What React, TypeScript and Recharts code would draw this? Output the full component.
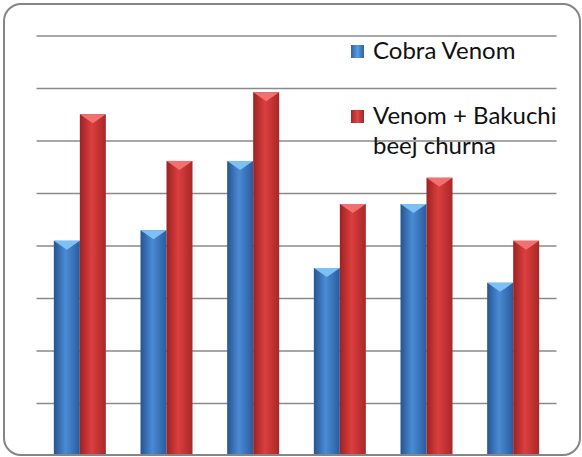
import React from 'react';
import { BarChart, Bar, XAxis, YAxis, CartesianGrid } from 'recharts';

const groups = ['1', '2', '3', '4', '5', '6'];
const cobraVenom = [4.1, 4.3, 5.62, 3.58, 4.8, 3.3];
const venomBakuchi = [6.51, 5.62, 6.93, 4.8, 5.3, 4.1];
const yTicks = [1, 2, 3, 4, 5, 6, 7, 8];
const legendItems = [
  { key: 'cobra', lines: ['Cobra Venom'] },
  { key: 'bakuchi', lines: ['Venom + Bakuchi', 'beej churna'] },
];

const data = groups.map((g, i) => ({ name: g, cobra: cobraVenom[i], bakuchi: venomBakuchi[i] }));

const SERIES = {
  cobra: { grad: 'gBlue', top: '#7cc0f4', swatch: 'linear-gradient(90deg,#2d62a6,#5b9be0 50%,#2d62a6)' },
  bakuchi: { grad: 'gRed', top: '#f27070', swatch: 'linear-gradient(90deg,#a32626,#dd4848 50%,#a32626)' },
};

function makeShape(key: 'cobra' | 'bakuchi') {
  return (props: any) => {
    const { x, y, width, height } = props;
    if (!height || height <= 0) return null;
    const s = SERIES[key];
    const bevel = Math.min(9, height);
    return (
      <g>
        <rect x={x} y={y} width={width} height={height} fill={`url(#${s.grad})`} />
        <polygon points={`${x},${y} ${x + width},${y} ${x + width / 2},${y + bevel}`} fill={s.top} />
      </g>
    );
  };
}

function LegendBox() {
  return (
    <div style={{ position: 'absolute', left: 351, top: 35, width: 220, height: 130, fontFamily: 'Lato, sans-serif', fontSize: 24, color: '#111' }}>
      {legendItems.map((it, i) => (
        <div key={it.key} style={{ position: 'absolute', left: 0, top: i * 65 }}>
          <div
            style={{
              position: 'absolute',
              left: 0,
              top: 9.5,
              width: 13,
              height: 13,
              background: SERIES[it.key as 'cobra' | 'bakuchi'].swatch,
            }}
          />
          {it.lines.map((t, j) => (
            <div key={j} style={{ position: 'absolute', left: 22, top: j * 30, lineHeight: '30px', whiteSpace: 'nowrap' }}>
              {t}
            </div>
          ))}
        </div>
      ))}
    </div>
  );
}

export default function App() {
  return (
    <div style={{ position: 'absolute', left: 0, top: 0, width: 582, height: 457, background: '#fff' }}>
      <div
        style={{
          position: 'absolute',
          left: 3,
          top: 3,
          width: 578,
          height: 453,
          boxSizing: 'border-box',
          border: '2px solid #858585',
          borderRadius: 18,
          overflow: 'hidden',
        }}
      >
        <div style={{ position: 'absolute', left: -5, top: -5, width: 582, height: 457 }}>
          <BarChart
            width={582}
            height={457}
            data={data}
            margin={{ top: 36, right: 25.5, bottom: 1, left: 36.5 }}
            barCategoryGap="20%"
            barGap={0}
          >
            <defs>
              <linearGradient id="gBlue" x1="0" y1="0" x2="1" y2="0">
                <stop offset="0%" stopColor="#26548f" />
                <stop offset="45%" stopColor="#4a8bd6" />
                <stop offset="100%" stopColor="#2a5c9c" />
              </linearGradient>
              <linearGradient id="gRed" x1="0" y1="0" x2="1" y2="0">
                <stop offset="0%" stopColor="#9c2222" />
                <stop offset="45%" stopColor="#dc3e3e" />
                <stop offset="100%" stopColor="#a82828" />
              </linearGradient>
            </defs>
            <CartesianGrid vertical={false} stroke="#8a8a8a" strokeWidth={1.5} />
            <XAxis dataKey="name" hide />
            <YAxis hide domain={[0, 8]} ticks={yTicks} />
            <Bar dataKey="cobra" name="Cobra Venom" fill="#3d7cc8" shape={makeShape('cobra')} isAnimationActive={false} />
            <Bar dataKey="bakuchi" name="Venom + Bakuchi beej churna" fill="#c83434" shape={makeShape('bakuchi')} isAnimationActive={false} />
          </BarChart>
          <LegendBox />
        </div>
      </div>
    </div>
  );
}
